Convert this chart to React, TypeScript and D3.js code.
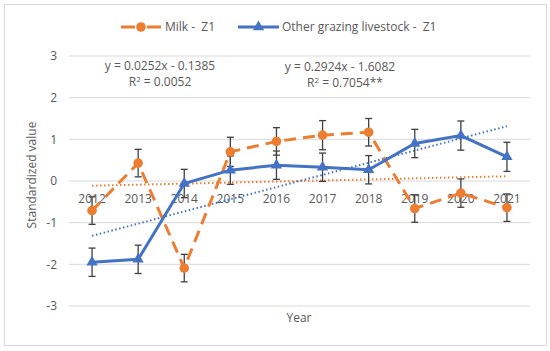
import React from "react";
import * as d3 from "d3";

const years = ["2012", "2013", "2014", "2015", "2016", "2017", "2018", "2019", "2020", "2021"];
const milk = [-0.71, 0.43, -2.09, 0.7, 0.95, 1.1, 1.17, -0.66, -0.29, -0.64];
const milkErr = [0.33, 0.33, 0.33, 0.35, 0.33, 0.35, 0.33, 0.33, 0.34, 0.33];
const other = [-1.95, -1.88, -0.06, 0.26, 0.38, 0.33, 0.27, 0.9, 1.09, 0.58];
const otherErr = [0.34, 0.34, 0.34, 0.34, 0.34, 0.34, 0.34, 0.34, 0.35, 0.35];
const yTicks = [-3, -2, -1, 0, 1, 2, 3];
const milkTrend = { slope: 0.0252, intercept: -0.1385 };
const otherTrend = { slope: 0.2924, intercept: -1.6082 };
const seriesNames = ["Milk -  Z1", "Other grazing livestock -  Z1"];

const W = 550;
const H = 351;
const ORANGE = "#ED7D31";
const BLUE = "#4472C4";
const GRID = "#d9d9d9";
const TXT = "#595959";
const FONT = "'Open Sans', 'Liberation Sans', sans-serif";

export default function App() {
  const x = d3.scaleBand<string>().domain(years).range([69, 530]).padding(0);
  const cx = (d: string) => (x(d) as number) + x.bandwidth() / 2;
  const y = d3.scaleLinear().domain([-3, 3]).range([306, 56]);
  const line = d3
    .line<number>()
    .x((_, i) => cx(years[i]))
    .y((d) => y(d));
  const trend = (t: { slope: number; intercept: number }) =>
    years.map((_, i) => t.slope * (i + 1) + t.intercept);
  const tri = d3.symbol().type(d3.symbolTriangle).size(55)();

  const errBars = (vals: number[], errs: number[], key: string) =>
    vals.map((v, i) => {
      const px = cx(years[i]);
      const y1 = y(v + errs[i]);
      const y2 = y(v - errs[i]);
      return (
        <g key={key + i} stroke="#404040" strokeWidth={1.3}>
          <line x1={px} x2={px} y1={y1} y2={y2} />
          <line x1={px - 3.5} x2={px + 3.5} y1={y1} y2={y1} />
          <line x1={px - 3.5} x2={px + 3.5} y1={y2} y2={y2} />
        </g>
      );
    });

  return (
    <svg width={W} height={H} style={{ position: "absolute", left: 0, top: 0 }} fontFamily={FONT}>
      <rect x={0} y={0} width={W} height={H} fill="white" />
      <rect x={4.5} y={4.5} width={542} height={341} fill="white" stroke={GRID} strokeWidth={1} />
      {yTicks.map((t) => (
        <g key={t}>
          <line x1={69} x2={530} y1={y(t)} y2={y(t)} stroke={GRID} strokeWidth={1} />
          <text x={57} y={y(t)} dy="0.35em" textAnchor="end" fontSize={12} fill={TXT}>
            {t}
          </text>
        </g>
      ))}
      {years.map((yr) => (
        <text key={yr} x={cx(yr)} y={y(0) + 22} textAnchor="middle" fontSize={12} fill={TXT}>
          {yr}
        </text>
      ))}
      <text
        transform={`translate(32,${(56 + 306) / 2 - 6}) rotate(-90)`}
        textAnchor="middle"
        dy="0.35em"
        fontSize={12}
        fill={TXT}
      >
        Standardized value
      </text>
      <text x={299} y={318} dy="0.35em" textAnchor="middle" fontSize={12} fill={TXT}>
        Year
      </text>

      {/* trendlines */}
      <path d={line(trend(milkTrend)) || ""} fill="none" stroke={ORANGE} strokeWidth={2} strokeDasharray="1.5 2.5" />
      <path d={line(trend(otherTrend)) || ""} fill="none" stroke={BLUE} strokeWidth={2} strokeDasharray="1.5 2.5" />

      {/* error bars */}
      {errBars(milk, milkErr, "m")}
      {errBars(other, otherErr, "o")}

      {/* series lines */}
      <path d={line(milk) || ""} fill="none" stroke={ORANGE} strokeWidth={3} strokeDasharray="12 7" />
      <path d={line(other) || ""} fill="none" stroke={BLUE} strokeWidth={3} />
      {milk.map((v, i) => (
        <circle key={"mc" + i} cx={cx(years[i])} cy={y(v)} r={4.8} fill={ORANGE} />
      ))}
      {other.map((v, i) => (
        <path key={"ot" + i} d={tri || ""} transform={`translate(${cx(years[i])},${y(v)})`} fill={BLUE} />
      ))}

      {/* equations */}
      <text x={160} y={66} dy="0.35em" textAnchor="middle" fontSize={12} fill={TXT}>
        y = 0.0252x - 0.1385
      </text>
      <text x={160} y={82} dy="0.35em" textAnchor="middle" fontSize={12} fill={TXT}>
        R<tspan dy="-4" fontSize={8}>2</tspan>
        <tspan dy="4"> = 0.0052</tspan>
      </text>
      <text x={340} y={67} dy="0.35em" textAnchor="middle" fontSize={12} fill={TXT}>
        y = 0.2924x - 1.6082
      </text>
      <text x={345} y={83} dy="0.35em" textAnchor="middle" fontSize={12} fill={TXT}>
        R<tspan dy="-4" fontSize={8}>2</tspan>
        <tspan dy="4"> = 0.7054**</tspan>
      </text>

      {/* legend */}
      <g>
        <line x1={121} x2={135} y1={27} y2={27} stroke={ORANGE} strokeWidth={3} />
        <line x1={147} x2={161} y1={27} y2={27} stroke={ORANGE} strokeWidth={3} />
        <circle cx={141} cy={27} r={4.8} fill={ORANGE} />
        <text x={165} y={27} dy="0.35em" fontSize={12} fill={TXT} style={{ whiteSpace: "pre" }}>
          {seriesNames[0]}
        </text>
        <line x1={238} x2={279} y1={27} y2={27} stroke={BLUE} strokeWidth={3} />
        <path d={tri || ""} transform={`translate(258.5,27)`} fill={BLUE} />
        <text x={282} y={27} dy="0.35em" fontSize={12} fill={TXT} style={{ whiteSpace: "pre" }}>
          {seriesNames[1]}
        </text>
      </g>
    </svg>
  );
}
